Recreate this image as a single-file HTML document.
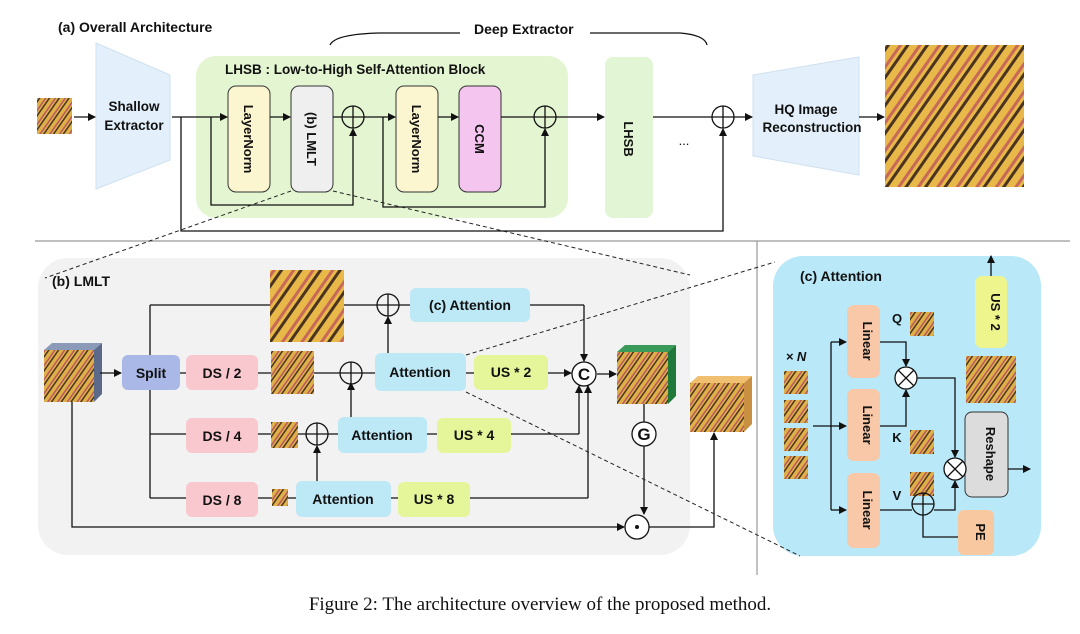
<!DOCTYPE html>
<html><head><meta charset="utf-8"><style>
html,body{margin:0;padding:0;background:#fff}
svg{display:block}
text{font-family:"Liberation Sans",sans-serif;fill:#111}
</style></head><body>
<svg width="1080" height="634" viewBox="0 0 1080 634" xmlns="http://www.w3.org/2000/svg">
<defs>
<marker id="a" markerWidth="8" markerHeight="8" refX="7" refY="4" orient="auto" markerUnits="userSpaceOnUse"><path d="M0,0 L8,4 L0,8 z" fill="#111"/></marker>
<pattern id="bf" width="16" height="16" patternUnits="userSpaceOnUse" patternTransform="rotate(35)">
<rect width="16" height="16" fill="#e8b848"/><rect width="3" height="16" fill="#4a3420"/><rect x="10" width="3" height="16" fill="#c86858"/>
</pattern>
<pattern id="bf2" width="8" height="8" patternUnits="userSpaceOnUse" patternTransform="rotate(35)">
<rect width="8" height="8" fill="#e0b048"/><rect width="1.5" height="8" fill="#4a3420"/><rect x="5" width="1.5" height="8" fill="#b85860"/>
</pattern>
</defs>
<g stroke="#111" stroke-width="1.3" fill="none">
<path d="M330,45 Q335,34 380,33 L460,33"/><path d="M590,33 L680,33 Q705,35 707,45"/>
</g>
<text x="58" y="32" font-size="14" font-weight="bold">(a) Overall Architecture</text>
<text x="474" y="34" font-size="14" font-weight="bold">Deep Extractor</text>
<rect x="37" y="98" width="35" height="36" fill="url(#bf2)"/>
<polygon points="96,43 170,75 170,160 96,189" fill="#e3f0fb" stroke="#cfe0f0"/>
<text x="134" y="111" font-size="13.5" font-weight="bold" text-anchor="middle">Shallow</text>
<text x="134" y="130" font-size="13.5" font-weight="bold" text-anchor="middle">Extractor</text>
<rect x="196" y="56" width="372" height="162" rx="20" fill="#e4f5d2"/>
<text x="225" y="74" font-size="13.5" font-weight="bold">LHSB : Low-to-High Self-Attention Block</text>
<rect x="228" y="86" width="42" height="106" rx="8" fill="#fbf6d0" stroke="#333"/>
<rect x="291" y="86" width="42" height="106" rx="8" fill="#efefef" stroke="#333"/>
<rect x="396" y="86" width="42" height="106" rx="8" fill="#fbf6d0" stroke="#333"/>
<rect x="459" y="86" width="42" height="106" rx="8" fill="#f4c6ef" stroke="#333"/>
<rect x="605" y="57" width="48" height="161" rx="8" fill="#e2f5d4"/>
<g font-size="13" font-weight="bold" text-anchor="middle">
<text transform="translate(244,139) rotate(90)">LayerNorm</text>
<text transform="translate(307,139) rotate(90)">(b) LMLT</text>
<text transform="translate(412,139) rotate(90)">LayerNorm</text>
<text transform="translate(475,139) rotate(90)">CCM</text>
<text transform="translate(624,139) rotate(90)">LHSB</text>
</g>
<text x="684" y="145" font-size="13" text-anchor="middle">...</text>
<polygon points="753,75 859,57 859,175 753,156" fill="#e3f0fb" stroke="#cfe0f0"/>
<text x="806" y="114" font-size="13.5" font-weight="bold" text-anchor="middle">HQ Image</text>
<text x="812" y="132" font-size="13.5" font-weight="bold" text-anchor="middle">Reconstruction</text>
<rect x="885" y="45" width="139" height="142" fill="url(#bf)"/>
<g stroke="#111" stroke-width="1.3" fill="none">
<path d="M74,117 L95,117" marker-end="url(#a)"/>
<path d="M172,117 L227,117" marker-end="url(#a)"/>
<path d="M270,117 L290,117" marker-end="url(#a)"/>
<path d="M333,117 L342,117"/>
<path d="M364,117 L395,117" marker-end="url(#a)"/>
<path d="M438,117 L458,117" marker-end="url(#a)"/>
<path d="M501,117 L534,117"/>
<path d="M556,117 L604,117" marker-end="url(#a)"/>
<path d="M653,117 L712,117"/>
<path d="M734,117 L752,117" marker-end="url(#a)"/>
<path d="M859,117 L884,117" marker-end="url(#a)"/>
<path d="M211,117 L211,205 L353,205 L353,129" marker-end="url(#a)"/>
<path d="M383,117 L383,207 L545,207 L545,129" marker-end="url(#a)"/>
<path d="M181,117 L181,231 L723,231 L723,129" marker-end="url(#a)"/>
<circle cx="353" cy="117" r="11"/><path d="M342,117 h22 M353,106 v22"/>
<circle cx="545" cy="117" r="11"/><path d="M534,117 h22 M545,106 v22"/>
<circle cx="723" cy="117" r="11"/><path d="M712,117 h22 M723,106 v22"/>
</g>
<path d="M35,241 L1070,241 M757,241 L757,575" stroke="#999" stroke-width="1.2"/>
<!-- LMLT -->
<rect x="38" y="258" width="652" height="297" rx="30" fill="#f2f2f2"/>
<text x="52" y="286" font-size="14" font-weight="bold">(b) LMLT</text>
<g>
<polygon points="44,350 52,343 102,343 94,350" fill="#8a9ab8"/><polygon points="94,350 102,343 102,394 94,402" fill="#5a6a88"/>
<rect x="44" y="350" width="50" height="52" fill="url(#bf2)"/>
<polygon points="617,352 625,345 676,345 668,352" fill="#3a9a5a"/><polygon points="668,352 676,345 676,396 668,404" fill="#1f7a3a"/>
<rect x="617" y="352" width="51" height="52" fill="url(#bf2)"/>
<polygon points="690,383 698,376 752,376 744,383" fill="#f0c070"/><polygon points="744,383 752,376 752,424 744,432" fill="#c89040"/>
<rect x="690" y="383" width="54" height="49" fill="url(#bf2)"/>
<rect x="270" y="270" width="74" height="72" fill="url(#bf)"/>
<rect x="271" y="351" width="43" height="43" fill="url(#bf2)"/>
<rect x="271" y="422" width="27" height="26" fill="url(#bf2)"/>
<rect x="272" y="489" width="16" height="17" fill="url(#bf2)"/>
</g>
<g stroke="#111" stroke-width="1.3" fill="none">
<path d="M100,373 L121,373" marker-end="url(#a)"/>
<path d="M150,305 L150,498 M150,305 L270,305 M344,305 L377,305 M399,305 L410,305 M530,305 L584,305"/>
<path d="M584,305 L584,361" marker-end="url(#a)"/>
<path d="M180,373 L186,373 M258,373 L271,373 M314,373 L340,373 M362,373 L375,373 M466,373 L474,373"/>
<path d="M548,373 L571,373" marker-end="url(#a)"/>
<path d="M597,374 L616,374" marker-end="url(#a)"/>
<path d="M150,434 L186,434 M258,434 L271,434 M298,434 L306,434 M328,434 L338,434 M427,434 L437,434 M511,434 L579,434"/>
<path d="M579,434 L579,386" marker-end="url(#a)"/>
<path d="M150,498 L186,498 M258,498 L272,498 M288,498 L296,498 M391,498 L398,498 M470,498 L588,498"/>
<path d="M588,498 L588,386" marker-end="url(#a)"/>
<path d="M388,353 L388,317" marker-end="url(#a)"/>
<path d="M351,417 L351,383" marker-end="url(#a)"/>
<path d="M317,481 L317,446" marker-end="url(#a)"/>
<path d="M72,402 L72,527 L624,527" marker-end="url(#a)"/>
<path d="M644,404 L644,422 M644,446 L644,514" marker-end="url(#a)"/>
<path d="M649,527 L714,527 L714,433" marker-end="url(#a)"/>
<circle cx="388" cy="305" r="11"/><path d="M377,305 h22 M388,294 v22"/>
<circle cx="351" cy="373" r="11"/><path d="M340,373 h22 M351,362 v22"/>
<circle cx="317" cy="434" r="11"/><path d="M306,434 h22 M317,423 v22"/>
<circle cx="584" cy="374" r="12" fill="#fff"/>
<circle cx="644" cy="434" r="12" fill="#fff"/>
<circle cx="637" cy="527" r="12" fill="#fff"/>
</g>
<circle cx="637" cy="527" r="2" fill="#111"/>
<text x="584" y="380" font-size="17" text-anchor="middle" font-weight="bold">C</text>
<text x="644" y="440" font-size="17" text-anchor="middle" font-weight="bold">G</text>
<g>
<rect x="122" y="355" width="58" height="35" rx="6" fill="#a9b8e6"/>
<rect x="186" y="355" width="72" height="35" rx="6" fill="#f9c8cf"/>
<rect x="186" y="418" width="72" height="35" rx="6" fill="#f9c8cf"/>
<rect x="186" y="482" width="72" height="35" rx="6" fill="#f9c8cf"/>
<rect x="410" y="288" width="120" height="34" rx="6" fill="#bde8f6"/>
<rect x="375" y="353" width="91" height="38" rx="6" fill="#bde8f6"/>
<rect x="338" y="417" width="89" height="36" rx="6" fill="#bde8f6"/>
<rect x="296" y="481" width="95" height="36" rx="6" fill="#bde8f6"/>
<rect x="474" y="355" width="74" height="35" rx="6" fill="#e5f59a"/>
<rect x="437" y="418" width="74" height="35" rx="6" fill="#e5f59a"/>
<rect x="398" y="482" width="72" height="35" rx="6" fill="#e5f59a"/>
</g>
<g font-size="14" font-weight="bold" text-anchor="middle">
<text x="151" y="378">Split</text>
<text x="222" y="378">DS / 2</text><text x="222" y="441">DS / 4</text><text x="222" y="505">DS / 8</text>
<text x="470" y="310">(c) Attention</text>
<text x="420" y="377">Attention</text><text x="382" y="440">Attention</text><text x="343" y="504">Attention</text>
<text x="511" y="377">US * 2</text><text x="474" y="440">US * 4</text><text x="434" y="504">US * 8</text>
</g>
<!-- Attention panel -->
<rect x="773" y="256" width="268" height="300" rx="30" fill="#b9e8f8"/>
<text x="800" y="281" font-size="14" font-weight="bold">(c) Attention</text>
<rect x="847" y="305" width="33" height="73" rx="7" fill="#f8c8a8"/>
<rect x="847" y="389" width="33" height="72" rx="7" fill="#f8c8a8"/>
<rect x="847" y="473" width="33" height="75" rx="7" fill="#f8c8a8"/>
<rect x="958" y="510" width="36" height="45" rx="6" fill="#f8c8a0"/>
<rect x="965" y="412" width="43" height="85" rx="7" fill="#dcdcdc" stroke="#333"/>
<rect x="975" y="276" width="32" height="72" rx="7" fill="#eef58c"/>
<rect x="784" y="371" width="24" height="23" fill="url(#bf2)"/>
<rect x="784" y="400" width="24" height="23" fill="url(#bf2)"/>
<rect x="784" y="428" width="24" height="23" fill="url(#bf2)"/>
<rect x="784" y="456" width="24" height="23" fill="url(#bf2)"/>
<rect x="910" y="312" width="24" height="24" fill="url(#bf2)"/>
<rect x="910" y="430" width="24" height="24" fill="url(#bf2)"/>
<rect x="910" y="472" width="24" height="24" fill="url(#bf2)"/>
<rect x="966" y="356" width="50" height="47" fill="url(#bf2)"/>
<g font-size="13" font-weight="bold" text-anchor="middle">
<text transform="translate(863,341) rotate(90)">Linear</text>
<text transform="translate(863,425) rotate(90)">Linear</text>
<text transform="translate(863,510) rotate(90)">Linear</text>
<text transform="translate(986,454) rotate(90)">Reshape</text>
<text transform="translate(991,312) rotate(90)">US * 2</text>
<text transform="translate(976,532) rotate(90)">PE</text>
<text x="897" y="323">Q</text><text x="897" y="442">K</text><text x="897" y="500">V</text>
<text x="796" y="361" font-style="italic">× N</text>
</g>
<g stroke="#111" stroke-width="1.3" fill="none">
<path d="M813,426 L832,426 M831,342 L831,510"/>
<path d="M831,342 L846,342" marker-end="url(#a)"/>
<path d="M831,426 L846,426" marker-end="url(#a)"/>
<path d="M831,510 L846,510" marker-end="url(#a)"/>
<path d="M880,342 L906,342 L906,366" marker-end="url(#a)"/>
<path d="M880,426 L906,426 L906,390" marker-end="url(#a)"/>
<path d="M917,378 L955,378 L955,457" marker-end="url(#a)"/>
<path d="M880,510 L912,510 M934,510 L955,510 L955,481" marker-end="url(#a)"/>
<path d="M958,537 L923,537 L923,515"/>
<path d="M966,469 L964,469 M1008,469 L1030,469" marker-end="url(#a)"/>
<path d="M991,276 L991,256" marker-end="url(#a)"/>
<circle cx="906" cy="378" r="11" fill="#fff"/><path d="M898,370 l16,16 M914,370 l-16,16"/>
<circle cx="955" cy="469" r="11" fill="#fff"/><path d="M947,461 l16,16 M963,461 l-16,16"/>
<circle cx="923" cy="504" r="11"/><path d="M912,504 h22 M923,493 v22"/>
</g>
<!-- dashed zoom lines on top -->
<g stroke="#222" stroke-width="1" stroke-dasharray="4,3" fill="none">
<path d="M291,191 L45,278"/><path d="M333,191 L690,275"/>
<path d="M466,355 L775,262"/><path d="M466,392 L800,556"/>
</g>
<text x="540" y="610" font-size="19" text-anchor="middle" style="font-family:'Liberation Serif',serif">Figure 2: The architecture overview of the proposed method.</text>
</svg>
</body></html>
